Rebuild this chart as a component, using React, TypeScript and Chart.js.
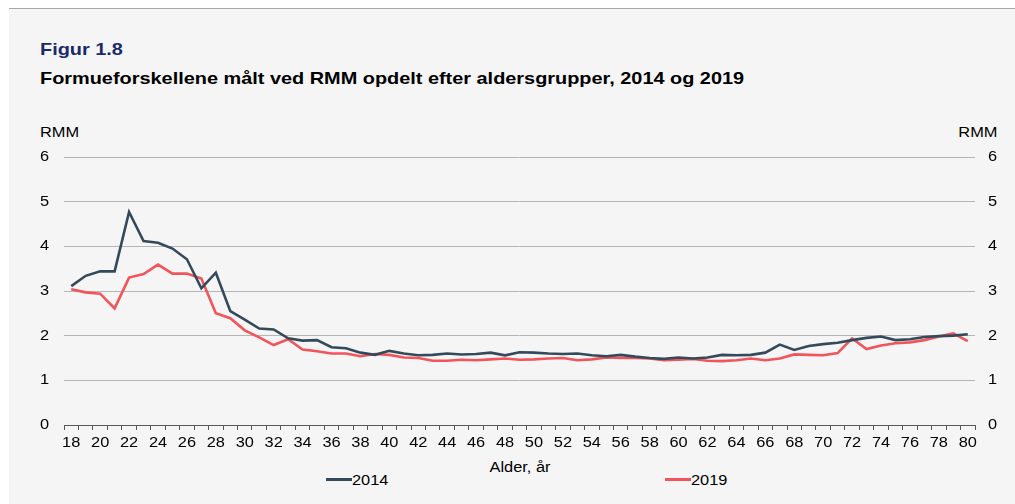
import React, { useEffect, useRef } from "react";
import { Chart, registerables } from "chart.js";

Chart.register(...registerables);

const ages: string[] = [];
for (let a = 18; a <= 80; a++) ages.push(String(a));

const series2014 = [
  3.11, 3.34, 3.44, 3.44, 4.77, 4.12, 4.08, 3.95, 3.71, 3.06,
  3.41, 2.55, 2.36, 2.16, 2.14, 1.94, 1.89, 1.90, 1.74, 1.72,
  1.62, 1.57, 1.66, 1.60, 1.56, 1.57, 1.60, 1.58, 1.59, 1.62,
  1.56, 1.63, 1.62, 1.60, 1.59, 1.60, 1.56, 1.54, 1.57, 1.53,
  1.50, 1.48, 1.51, 1.49, 1.51, 1.57, 1.56, 1.57, 1.62, 1.80,
  1.68, 1.77, 1.81, 1.84, 1.90, 1.95, 1.98, 1.90, 1.92, 1.97,
  1.99, 2.00, 2.03,
];

const series2019 = [
  3.04, 2.97, 2.94, 2.61, 3.30, 3.38, 3.59, 3.39, 3.39, 3.28,
  2.50, 2.39, 2.12, 1.96, 1.79, 1.92, 1.69, 1.65, 1.60, 1.60,
  1.54, 1.59, 1.57, 1.51, 1.50, 1.44, 1.44, 1.46, 1.45, 1.47,
  1.49, 1.46, 1.47, 1.49, 1.50, 1.45, 1.47, 1.51, 1.50, 1.50,
  1.49, 1.45, 1.46, 1.48, 1.44, 1.43, 1.45, 1.49, 1.45, 1.49,
  1.58, 1.57, 1.56, 1.61, 1.94, 1.70, 1.78, 1.83, 1.85, 1.90,
  1.98, 2.05, 1.88,
];

const yTicks = [0, 1, 2, 3, 4, 5, 6];

const COLOR_2014 = "#34495a";
const COLOR_2019 = "#f2545b";
const FONT = "'Liberation Sans', Arial, sans-serif";
const SX = 1.17;

const stretchedTicks = {
  id: "stretchedTicks",
  afterDraw(chart: any) {
    const ctx = chart.ctx;
    ctx.save();
    ctx.font = `14px ${FONT}`;
    ctx.fillStyle = "#000";
    ctx.textBaseline = "middle";
    const xs = chart.scales.x;
    ages.forEach((a, i) => {
      if (i % 2 !== 0) return;
      const px = xs.getPixelForValue(i);
      ctx.save();
      ctx.translate(px, 303);
      ctx.scale(SX, 1);
      ctx.textAlign = "center";
      ctx.fillText(a, 0, 0);
      ctx.restore();
    });
    const yl = chart.scales.y;
    const yr = chart.scales.y2;
    yTicks.forEach((v) => {
      const py = yl.getPixelForValue(v);
      ctx.save();
      ctx.translate(yl.right - 15, py);
      ctx.scale(SX, 1);
      ctx.textAlign = "right";
      ctx.fillText(String(v), 0, 0);
      ctx.restore();
      const pr = yr.getPixelForValue(v);
      ctx.save();
      ctx.translate(yr.left + 13, pr);
      ctx.scale(SX, 1);
      ctx.textAlign = "left";
      ctx.fillText(String(v), 0, 0);
      ctx.restore();
    });
    ctx.restore();
  },
};

export default function App() {
  const ref = useRef<HTMLCanvasElement | null>(null);

  useEffect(() => {
    if (!ref.current) return;
    const chart = new Chart(ref.current, {
      type: "line",
      data: {
        labels: ages,
        datasets: [
          {
            label: "2014",
            data: series2014,
            borderColor: COLOR_2014,
            backgroundColor: COLOR_2014,
            borderWidth: 2.6,
            pointRadius: 0,
            tension: 0,
          },
          {
            label: "2019",
            data: series2019,
            borderColor: COLOR_2019,
            backgroundColor: COLOR_2019,
            borderWidth: 2.6,
            pointRadius: 0,
            tension: 0,
          },
        ],
      },
      options: {
        responsive: false,
        animation: false,
        devicePixelRatio: 1,
        layout: { padding: { top: 17, left: 0, right: 0, bottom: 0 } },
        plugins: { legend: { display: false }, tooltip: { enabled: false } },
        scales: {
          x: {
            type: "category",
            offset: true,
            grid: {
              offset: true,
              drawOnChartArea: false,
              drawTicks: true,
              tickLength: 5,
              color: "#595959",
            },
            border: { display: true, color: "#595959", width: 1 },
            ticks: {
              autoSkip: false,
              maxRotation: 0,
              minRotation: 0,
              padding: 4,
              color: "rgba(0,0,0,0)",
              font: { family: FONT, size: 14 },
              callback: (_v: any, i: number) => (i % 2 === 0 ? ages[i] : ""),
            },
            afterFit: (s: any) => {
              s.height = 30;
            },
          },
          y: {
            position: "left",
            min: 0,
            max: 6,
            afterBuildTicks: (s: any) => {
              s.ticks = yTicks.map((v) => ({ value: v }));
            },
            grid: {
              drawTicks: false,
              color: (c: any) => (c.tick && c.tick.value === 0 ? "rgba(0,0,0,0)" : "#b5b5b5"),
              lineWidth: 1,
            },
            border: { display: false },
            ticks: {
              padding: 0,
              color: "rgba(0,0,0,0)",
              font: { family: FONT, size: 10 },
            },
            afterFit: (s: any) => {
              s.width = 55;
            },
          },
          y2: {
            position: "right",
            min: 0,
            max: 6,
            afterBuildTicks: (s: any) => {
              s.ticks = yTicks.map((v) => ({ value: v }));
            },
            grid: { display: false, drawTicks: false },
            border: { display: false },
            ticks: {
              padding: 0,
              color: "rgba(0,0,0,0)",
              font: { family: FONT, size: 10 },
            },
            afterFit: (s: any) => {
              s.width = 40;
            },
          },
        },
      },
      plugins: [stretchedTicks],
    });
    return () => chart.destroy();
  }, []);

  const abs = (o: React.CSSProperties, origin = "left center"): React.CSSProperties => ({
    position: "absolute",
    fontFamily: FONT,
    whiteSpace: "nowrap",
    transform: `scaleX(${SX})`,
    transformOrigin: origin,
    ...o,
  });

  return (
    <div style={{ position: "fixed", left: 0, top: 0, width: 1015, height: 504, background: "#fff", overflow: "hidden" }}>
      <div
        style={{
          position: "absolute",
          left: 9,
          top: 8,
          right: 0,
          bottom: 0,
          background: "#f5f5f5",
          borderTop: "1px solid #a6a6a6",
        }}
      />
      <div style={abs({ left: 40, top: 41, fontSize: 17, lineHeight: "17px", fontWeight: "bold", color: "#1b2a6b" })}>
        Figur 1.8
      </div>
      <div style={abs({ left: 40, top: 70, fontSize: 17, lineHeight: "17px", fontWeight: "bold", color: "#000" })}>
        Formueforskellene målt ved RMM opdelt efter aldersgrupper, 2014 og 2019
      </div>
      <div style={abs({ left: 40, top: 124, fontSize: 14, lineHeight: "16px", color: "#000" })}>RMM</div>
      <div
        style={abs(
          { right: 1015 - 997, top: 124, fontSize: 14, lineHeight: "16px", color: "#000", textAlign: "right" },
          "right center"
        )}
      >
        RMM
      </div>
      <canvas
        ref={ref}
        width={1006}
        height={315}
        style={{ position: "absolute", left: 9, top: 140, width: 1006, height: 315 }}
      />
      <div
        style={abs(
          { left: 0, width: 1040, top: 459, fontSize: 14, lineHeight: "16px", color: "#000", textAlign: "center" },
          "520px center"
        )}
      >
        Alder, år
      </div>
      <div style={{ position: "absolute", left: 326, top: 478, width: 26, height: 3, background: COLOR_2014 }} />
      <div style={abs({ left: 352, top: 472, fontSize: 14, lineHeight: "16px", color: "#000" })}>2014</div>
      <div style={{ position: "absolute", left: 665, top: 478, width: 26, height: 3, background: COLOR_2019 }} />
      <div style={abs({ left: 691, top: 472, fontSize: 14, lineHeight: "16px", color: "#000" })}>2019</div>
    </div>
  );
}
